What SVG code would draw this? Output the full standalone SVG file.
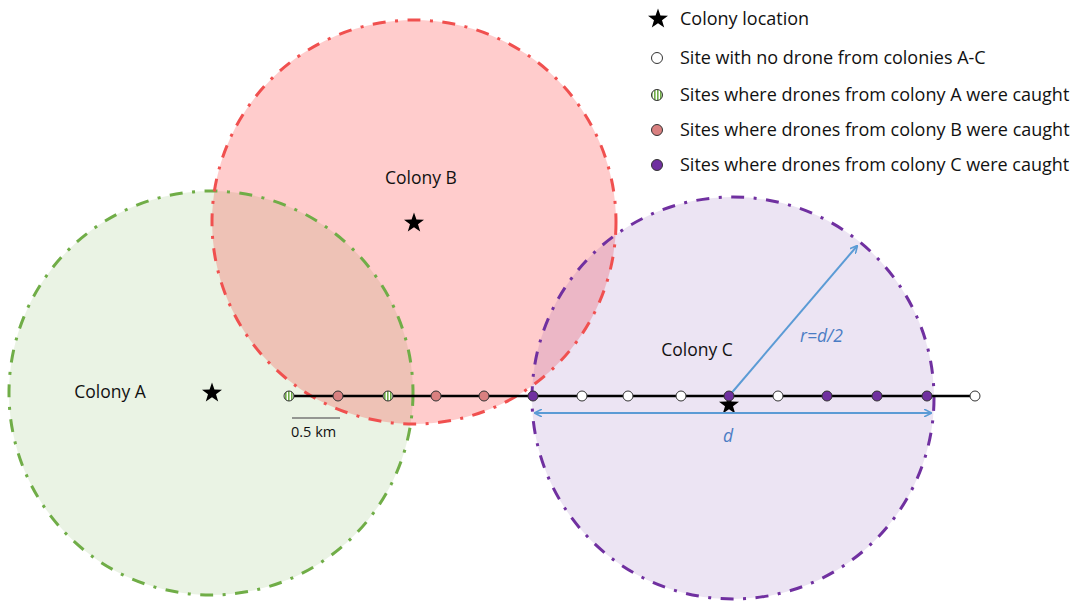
<svg xmlns="http://www.w3.org/2000/svg" width="1084" height="602" viewBox="0 0 1084 602">
<defs>
<style>
text{font-family:"Open Sans","Liberation Sans",sans-serif;fill:#111}
.lg{font-size:18px}
.lbl{font-size:17.5px}
.blue{fill:#4a7cc4;font-style:italic;font-size:17.5px}
.ring{fill:none;stroke-width:3;stroke-dasharray:13 9.5 3 9.5}
.site{stroke:#333;stroke-width:1}
.no{fill:#fff}
.sa{fill:url(#stripes)}
.sb{fill:#d98080}
.sc{fill:#7030a0}
.arr{stroke:#5b9bd5;stroke-width:2;fill:none}
</style>
<pattern id="stripes" patternUnits="userSpaceOnUse" width="3" height="4">
<rect width="3" height="4" fill="#fff"/>
<rect width="1.6" height="4" fill="#70ad47"/>
</pattern>
<marker id="ah" viewBox="0 0 10 10" refX="9" refY="5" markerWidth="8" markerHeight="8" orient="auto-start-reverse" markerUnits="userSpaceOnUse">
<path d="M0,0 L10,5 L0,10" fill="none" stroke="#5b9bd5" stroke-width="2"/>
</marker>
<path id="star" d="M0,-10.5 L2.45,-3.4 L10,-3.3 L4,1.3 L6.2,8.5 L0,4.2 L-6.2,8.5 L-4,1.3 L-10,-3.3 L-2.45,-3.4 Z" fill="#000"/>
</defs>
<rect width="1084" height="602" fill="#fff"/>
<g id="colonyA">
<circle cx="211" cy="393" r="202" fill="#70ad47" fill-opacity="0.15"/>
</g>
<g id="colonyB">
<circle cx="414" cy="222" r="202" fill="#ff0000" fill-opacity="0.2"/>
</g>
<g id="colonyC">
<circle cx="733" cy="398" r="201" fill="#7030a0" fill-opacity="0.13"/>
</g>
<g id="rings">
<circle class="ring" cx="211" cy="393" r="202" stroke="#70ad47"/>
<circle class="ring" cx="414" cy="222" r="202" stroke="#f0504f"/>
<circle class="ring" cx="733" cy="398" r="201" stroke="#7030a0"/>
</g>
<g id="labels">
<text class="lbl" x="110" y="398" text-anchor="middle">Colony A</text>
<text class="lbl" x="421" y="184" text-anchor="middle">Colony B</text>
<text class="lbl" x="697" y="356" text-anchor="middle">Colony C</text>
</g>
<g id="stars">
<use href="#star" x="212" y="393"/>
<use href="#star" x="414" y="223"/>
<use href="#star" x="729" y="405"/>
</g>
<g id="connectors">
<line x1="289" y1="396" x2="975" y2="396" stroke="#000" stroke-width="2.5"/>
<line class="arr" x1="729" y1="396" x2="857" y2="246" marker-end="url(#ah)"/>
<line class="arr" x1="535" y1="413" x2="931" y2="413" marker-start="url(#ah)" marker-end="url(#ah)"/>
<line x1="292" y1="418" x2="340" y2="418" stroke="#777" stroke-width="1.5"/>
</g>
<g id="sites">
<circle class="site sa" cx="289" cy="396" r="5"/>
<circle class="site sb" cx="338" cy="396" r="5"/>
<circle class="site sa" cx="388" cy="396" r="5"/>
<circle class="site sb" cx="436" cy="396" r="5"/>
<circle class="site sb" cx="484" cy="396" r="5"/>
<circle class="site sc" cx="533" cy="396" r="5"/>
<circle class="site no" cx="582" cy="396" r="5"/>
<circle class="site no" cx="628" cy="396" r="5"/>
<circle class="site no" cx="681" cy="396" r="5"/>
<circle class="site sc" cx="729" cy="396" r="5"/>
<circle class="site no" cx="778" cy="396" r="5"/>
<circle class="site sc" cx="827" cy="396" r="5"/>
<circle class="site sc" cx="877" cy="396" r="5"/>
<circle class="site sc" cx="927" cy="396" r="5"/>
<circle class="site no" cx="975" cy="396" r="5"/>
</g>
<g id="annotations">
<text x="291" y="437" style="font-size:14.5px">0.5 km</text>
<text class="blue" x="728" y="442" text-anchor="middle">d</text>
<text class="blue" x="800" y="342">r=d/2</text>
</g>
<g id="legend">
<use href="#star" x="658" y="19"/>
<text class="lg" x="680" y="25">Colony location</text>
<circle class="site no" cx="657" cy="58" r="5.5"/>
<text class="lg" x="680" y="64">Site with no drone from colonies A-C</text>
<circle class="site sa" cx="657" cy="95" r="5.5"/>
<text class="lg" x="680" y="101">Sites where drones from colony A were caught</text>
<circle class="site sb" cx="657" cy="130" r="5.5"/>
<text class="lg" x="680" y="136">Sites where drones from colony B were caught</text>
<circle class="site sc" cx="657" cy="165" r="5.5"/>
<text class="lg" x="680" y="171">Sites where drones from colony C were caught</text>
</g>
</svg>
